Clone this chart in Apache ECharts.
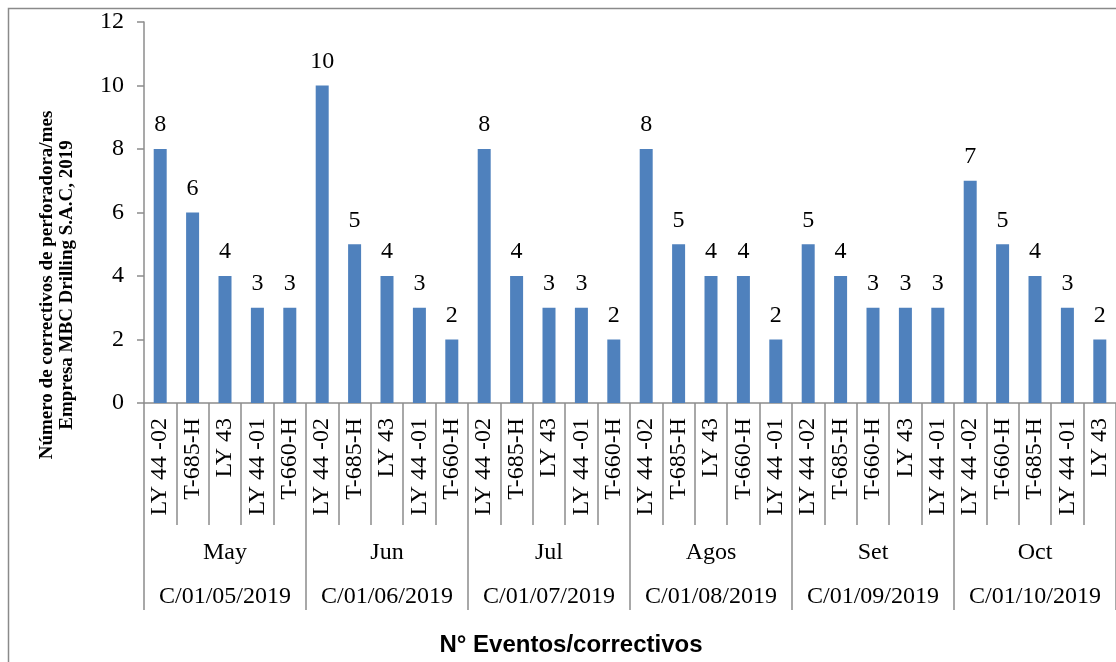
<!DOCTYPE html>
<html>
<head>
<meta charset="utf-8">
<script src="https://cdn.jsdelivr.net/npm/echarts@6/dist/echarts.min.js"></script>
<style>
  html, body { margin: 0; padding: 0; background: #fff; }
  #chart { width: 1116px; height: 662px; }
</style>
</head>
<body>
<div id="chart"></div>
<script>
// Equipment per month (five per month, in the order shown)
const equipos = [
  'LY 44 -02', 'T-685-H', 'LY 43', 'LY 44 -01', 'T-660-H',
  'LY 44 -02', 'T-685-H', 'LY 43', 'LY 44 -01', 'T-660-H',
  'LY 44 -02', 'T-685-H', 'LY 43', 'LY 44 -01', 'T-660-H',
  'LY 44 -02', 'T-685-H', 'LY 43', 'T-660-H', 'LY 44 -01',
  'LY 44 -02', 'T-685-H', 'T-660-H', 'LY 43', 'LY 44 -01',
  'LY 44 -02', 'T-660-H', 'T-685-H', 'LY 44 -01', 'LY 43'
];
// Corrective events per equipment
const correctivos = [
  8, 6, 4, 3, 3,
  10, 5, 4, 3, 2,
  8, 4, 3, 3, 2,
  8, 5, 4, 4, 2,
  5, 4, 3, 3, 3,
  7, 5, 4, 3, 2
];
const meses = ['May', 'Jun', 'Jul', 'Agos', 'Set', 'Oct'];
const periodos = ['C/01/05/2019', 'C/01/06/2019', 'C/01/07/2019', 'C/01/08/2019', 'C/01/09/2019', 'C/01/10/2019'];
const yTicks = { min: 0, max: 12, interval: 2 };

const chart = echarts.init(document.getElementById('chart'));
const axisGray = '#8c8c8c';
const serif = '"Liberation Serif", "Times New Roman", serif';

chart.setOption({
  animation: false,
  backgroundColor: '#fff',
  grid: { left: 144, top: 22, width: 975, bottom: 259, containLabel: false },
  xAxis: [
    {
      type: 'category',
      data: equipos,
      position: 'bottom',
      axisLine: { show: true, lineStyle: { color: axisGray, width: 1.5 } },
      axisTick: { show: true, interval: 0, length: 122, lineStyle: { color: axisGray, width: 1.5 } },
      axisLabel: {
        interval: 0, rotate: 90, margin: 15,
        fontFamily: serif, fontSize: 24, color: '#000'
      }
    },
    {
      type: 'category',
      data: meses,
      position: 'bottom',
      offset: 0,
      axisLine: { show: false },
      axisTick: { show: true, interval: 0, length: 207, lineStyle: { color: axisGray, width: 1.5 } },
      axisLabel: { interval: 0, margin: 138, fontFamily: serif, fontSize: 24, color: '#000' }
    },
    {
      type: 'category',
      data: periodos,
      position: 'bottom',
      offset: 0,
      axisLine: { show: false },
      axisTick: { show: false },
      axisLabel: { interval: 0, margin: 182, fontFamily: serif, fontSize: 24, color: '#000' }
    }
  ],
  yAxis: {
    type: 'value',
    min: yTicks.min, max: yTicks.max, interval: yTicks.interval,
    axisLine: { show: true, lineStyle: { color: axisGray, width: 1.5 } },
    axisTick: { show: true, length: 7, lineStyle: { color: axisGray, width: 1.5 } },
    splitLine: { show: false },
    axisLabel: { margin: 20, fontFamily: serif, fontSize: 24, color: '#000' }
  },
  series: [{
    type: 'bar',
    xAxisIndex: 0,
    data: correctivos,
    barWidth: 13,
    itemStyle: { color: '#4f81bd' },
    label: {
      show: true, position: 'top', distance: 12,
      fontFamily: serif, fontSize: 24, color: '#000'
    }
  }],
  graphic: [
    {
      type: 'rect',
      shape: { x: 8.5, y: 8.5, width: 1200, height: 800 },
      style: { fill: 'none', stroke: '#8a8a8a', lineWidth: 1.5 },
      silent: true
    },
    {
      type: 'text',
      x: 57, y: 285,
      rotation: Math.PI / 2,
      style: {
        text: 'Número de correctivos de perforadora/mes\nEmpresa MBC Drilling S.A.C, 2019',
        font: 'bold 19px "Liberation Serif", serif',
        lineHeight: 20,
        align: 'center', verticalAlign: 'middle', fill: '#000'
      }
    },
    {
      type: 'text',
      x: 571, y: 645,
      style: {
        text: 'N° Eventos/correctivos',
        font: 'bold 24px "Liberation Sans", Arial, sans-serif',
        align: 'center', verticalAlign: 'middle', fill: '#000'
      }
    }
  ]
});
</script>
</body>
</html>
